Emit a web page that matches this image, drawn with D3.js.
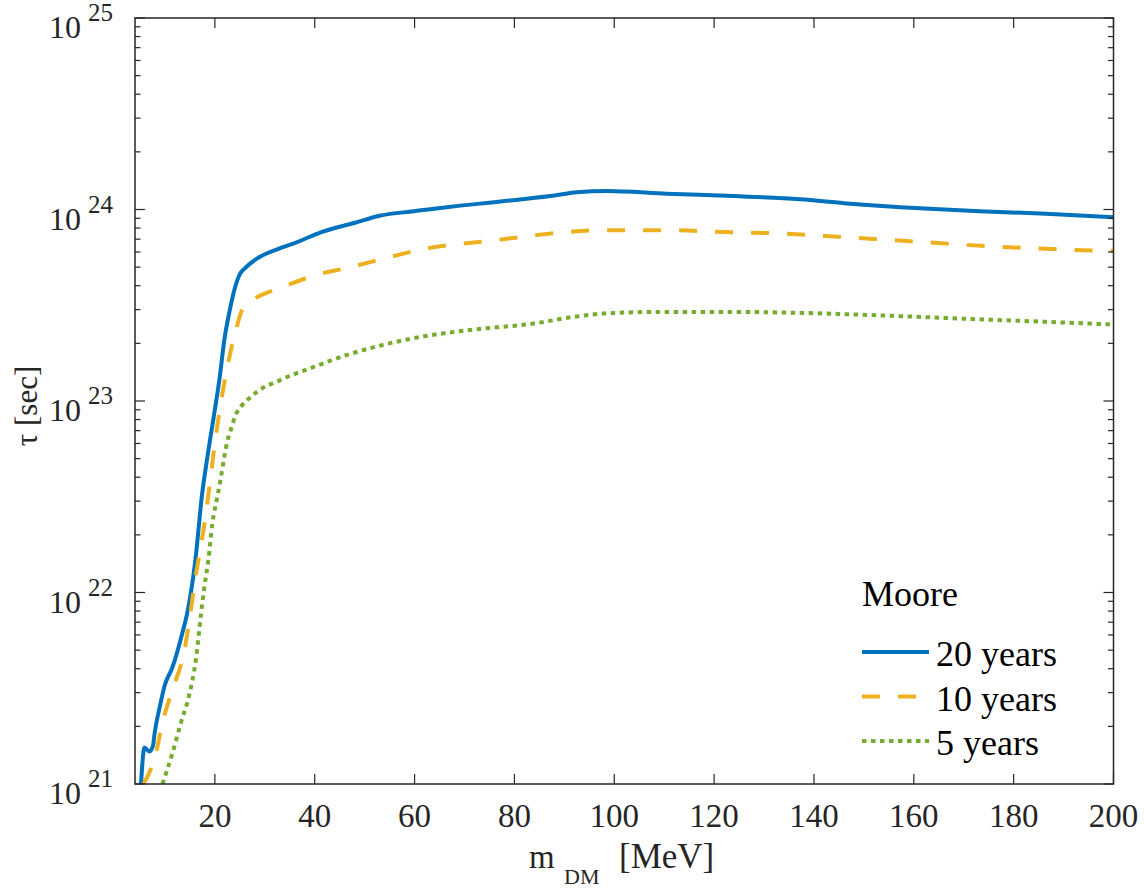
<!DOCTYPE html>
<html>
<head>
  <meta charset="UTF-8">
  <style>
    body { margin: 0; background: #fff; }
    svg text { font-family: "Liberation Serif", "Times New Roman", serif; fill: #262626; }
  </style>
</head>
<body>
<svg></svg>
<script src="https://d3js.org/d3.v7.min.js"></script>
<script>
let width = 1144, height = 892;
let plotLeft = 135, plotRight = 1113.5, plotTop = 18, plotBottom = 784;

// values: mass [MeV] and lifetime [sec]
let m20 = [5.2, 5.9, 6.9, 7.6, 7.9, 9.1, 9.9, 11.5, 13.5, 14.5, 15.2, 16.1, 17.4, 18.5, 19.9, 20.9, 21.9, 23.0, 23.9, 25.0, 25.9, 28.5, 33.2, 36.5, 41.2, 47.9, 53.2, 59.9, 67.2, 77.2, 87.2, 92.5, 98.5, 110.5, 123.9, 137.2, 146.5, 161.2, 173.2, 186.5, 200];
let tau20 = [1.0e21, 1.55e21, 1.48e21, 1.58e21, 1.82e21, 2.63e21, 3.24e21, 4.07e21, 6.17e21, 7.9e21, 1.0e22, 1.48e22, 3.2e22, 5.1e22, 8.7e22, 1.29e23, 2.09e23, 3.0e23, 3.8e23, 4.6e23, 4.9e23, 5.56e23, 6.3e23, 6.76e23, 7.6e23, 8.5e23, 9.3e23, 9.8e23, 1.035e24, 1.10e24, 1.175e24, 1.23e24, 1.25e24, 1.21e24, 1.175e24, 1.13e24, 1.076e24, 1.014e24, 9.8e23, 9.5e23, 9.1e23];

let m10 = [5.7, 8.2, 9.5, 11.5, 13.9, 14.9, 15.9, 18.2, 20.1, 21.2, 22.5, 24.2, 25.5, 27.9, 33.2, 40.5, 47.2, 54.5, 61.2, 75.9, 89.9, 97.2, 110.5, 123.9, 133.2, 146.5, 161.9, 176.5, 190.5, 200];
let tau10 = [1.0e21, 1.45e21, 2.09e21, 3.1e21, 5.0e21, 7.2e21, 1.1e22, 2.57e22, 6.3e22, 9.8e22, 1.51e23, 2.34e23, 3.0e23, 3.4e23, 3.9e23, 4.57e23, 5.0e23, 5.6e23, 6.17e23, 6.9e23, 7.6e23, 7.8e23, 7.8e23, 7.6e23, 7.5e23, 7.16e23, 6.76e23, 6.4e23, 6.17e23, 6.07e23];

let m5 = [9.5, 11.5, 13.2, 14.9, 16.2, 17.2, 17.9, 18.7, 19.5, 20.5, 21.2, 21.9, 22.5, 23.2, 24.2, 25.2, 27.2, 28.5, 33.2, 39.9, 46.5, 53.2, 62.5, 70.5, 83.9, 91.9, 98.5, 110.5, 123.9, 135.9, 153.2, 169.9, 186.5, 200];
let tau5 = [1.0e21, 1.45e21, 2.09e21, 2.95e21, 4.47e21, 7.6e21, 1.07e22, 1.48e22, 2.29e22, 3.16e22, 3.98e22, 5.13e22, 6.17e22, 7.08e22, 8.5e22, 9.33e22, 1.05e23, 1.12e23, 1.29e23, 1.51e23, 1.74e23, 1.95e23, 2.19e23, 2.34e23, 2.54e23, 2.75e23, 2.87e23, 2.92e23, 2.92e23, 2.89e23, 2.8e23, 2.69e23, 2.59e23, 2.51e23];

let seriesNames = ["20 years", "10 years", "5 years"];
let legendTitle = "Moore";
let xTicks = [20, 40, 60, 80, 100, 120, 140, 160, 180, 200];
let yExponents = [21, 22, 23, 24, 25];

let series = [
  { name: seriesNames[0], m: m20, tau: tau20, color: "#0072BD", dash: null },
  { name: seriesNames[1], m: m10, tau: tau10, color: "#EDB120", dash: "18,18" },
  { name: seriesNames[2], m: m5, tau: tau5, color: "#77AC30", dash: "4.5,4.5" }
];

let svg = d3.select("svg").attr("width", width).attr("height", height);

let x = d3.scaleLinear().domain([4, 200]).range([plotLeft, plotRight]);
let y = d3.scaleLog().domain([1e21, 1e25]).range([plotBottom, plotTop]);

svg.append("clipPath").attr("id", "clip")
  .append("rect")
  .attr("x", plotLeft).attr("y", plotTop)
  .attr("width", plotRight - plotLeft).attr("height", plotBottom - plotTop);

// curves
let line = d3.line()
  .x(d => x(d[0]))
  .y(d => y(d[1]))
  .curve(d3.curveMonotoneX);

svg.append("g").attr("clip-path", "url(#clip)")
  .selectAll("path")
  .data(series)
  .enter()
  .append("path")
  .attr("d", s => line(s.m.map((v, i) => [v, s.tau[i]])))
  .attr("fill", "none")
  .attr("stroke", s => s.color)
  .attr("stroke-width", 4)
  .attr("stroke-dasharray", s => s.dash);

// ticks, all pointing inward
let axisColor = "#262626";
let ticks = svg.append("g").attr("stroke", axisColor).attr("stroke-width", 1.2);

xTicks.forEach(t => {
  ticks.append("line").attr("x1", x(t)).attr("x2", x(t)).attr("y1", plotBottom).attr("y2", plotBottom - 10);
  ticks.append("line").attr("x1", x(t)).attr("x2", x(t)).attr("y1", plotTop).attr("y2", plotTop + 10);
});

let yMajor = yExponents.map(e => Math.pow(10, e));
let yMinor = [];
yExponents.slice(0, -1).forEach(e => {
  for (let k = 2; k <= 9; k++) yMinor.push(k * Math.pow(10, e));
});
yMajor.forEach(v => {
  ticks.append("line").attr("x1", plotLeft).attr("x2", plotLeft + 10).attr("y1", y(v)).attr("y2", y(v));
  ticks.append("line").attr("x1", plotRight).attr("x2", plotRight - 10).attr("y1", y(v)).attr("y2", y(v));
});
yMinor.forEach(v => {
  ticks.append("line").attr("x1", plotLeft).attr("x2", plotLeft + 5.5).attr("y1", y(v)).attr("y2", y(v));
  ticks.append("line").attr("x1", plotRight).attr("x2", plotRight - 5.5).attr("y1", y(v)).attr("y2", y(v));
});

// box
svg.append("rect")
  .attr("x", plotLeft).attr("y", plotTop)
  .attr("width", plotRight - plotLeft).attr("height", plotBottom - plotTop)
  .attr("fill", "none")
  .attr("stroke", axisColor)
  .attr("stroke-width", 1.5);

// x tick labels
svg.append("g").selectAll("text")
  .data(xTicks)
  .enter()
  .append("text")
  .attr("x", d => x(d))
  .attr("y", plotBottom + 43)
  .attr("text-anchor", "middle")
  .style("font-size", "33px")
  .text(d => d);

// y tick labels: 10 with exponent
yExponents.forEach(e => {
  let yy = y(Math.pow(10, e));
  svg.append("text")
    .attr("x", 113).attr("y", yy + 3)
    .attr("text-anchor", "end")
    .style("font-size", "25px")
    .text(e);
  svg.append("text")
    .attr("x", 81).attr("y", yy + 20)
    .attr("text-anchor", "end")
    .style("font-size", "32px")
    .text("10");
});

// axis labels
svg.append("text")
  .attr("x", 529).attr("y", 868)
  .style("font-size", "33px")
  .text("m");
svg.append("text")
  .attr("x", 564).attr("y", 884)
  .style("font-size", "22px")
  .text("DM");
svg.append("text")
  .attr("x", 619).attr("y", 868)
  .style("font-size", "35px")
  .text("[MeV]");

svg.append("text")
  .attr("transform", "translate(37,406) rotate(-90)")
  .attr("text-anchor", "middle")
  .style("font-size", "31px")
  .text("τ [sec]");

// legend
let legend = svg.append("g");
legend.append("text")
  .attr("x", 862).attr("y", 606)
  .style("font-size", "36px")
  .style("fill", "#000")
  .text(legendTitle);

series.forEach((s, i) => {
  let ly = 652 + i * 44.5;
  legend.append("line")
    .attr("x1", 862).attr("x2", 929)
    .attr("y1", ly).attr("y2", ly)
    .attr("stroke", s.color)
    .attr("stroke-width", 4)
    .attr("stroke-dasharray", s.dash);
  legend.append("text")
    .attr("x", 936).attr("y", ly + 14)
    .style("font-size", "36px")
    .style("fill", "#000")
    .text(s.name);
});
</script>
</body>
</html>
